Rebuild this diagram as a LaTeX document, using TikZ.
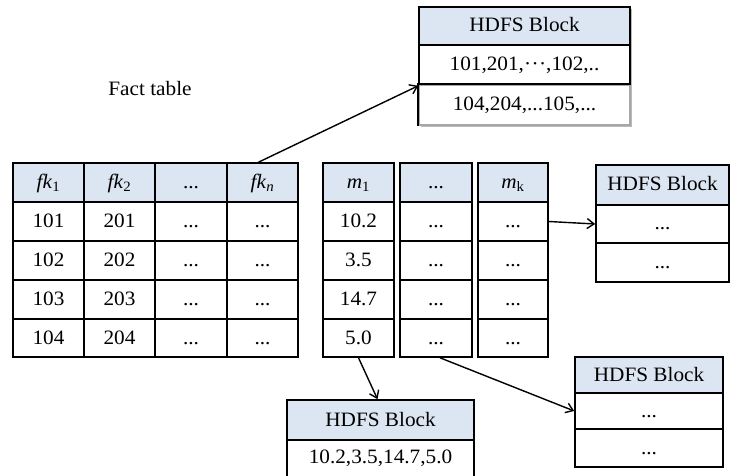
\documentclass[tikz,border=0pt]{standalone}
\usepackage{fontspec}
\setmainfont[FakeStretch=1.04]{Liberation Serif}
\usetikzlibrary{arrows.meta}
\definecolor{hdr}{HTML}{DCE6F2}
\tikzset{
  cell/.style={draw=black, line width=1.6bp, fill=white, inner sep=0pt, text=black,
    font=\fontsize{20.5}{24}\selectfont, text height=15bp, text depth=3bp},
  hcell/.style={cell, fill=hdr},
  conn/.style={draw=black, line width=1.4bp, -{Straight Barb[length=7bp,width=10bp]}},
  lbl/.style={font=\fontsize{20.5}{24}\selectfont, inner sep=0pt}
}
\newcommand\cbox[7]{\node[#6, minimum width={(#4-#2)*1bp}, minimum height={(#5-#3)*1bp}] (#1) at ({(#2+#4)/2},{(#3+#5)/2}) {#7};}
\begin{document}
\begin{tikzpicture}[x=1bp,y=-1bp]
\clip (0,0) rectangle (733,476);
\fill[white] (0,0) rectangle (733,476);
% Fact table label
\node[lbl] (ft) at (150,89) {Fact table};
% left table
\cbox{a0}{13}{163}{84}{202}{hcell}{\textit{fk}\textsubscript{1}}
\cbox{b0}{84}{163}{155}{202}{hcell}{\textit{fk}\textsubscript{2}}
\cbox{c0}{155}{163}{227}{202}{hcell}{...}
\cbox{n0}{227}{163}{298}{202}{hcell}{\textit{fk}\textsubscript{\textit{n}}}
\cbox{a1}{13}{202}{84}{241}{cell}{101}
\cbox{b1}{84}{202}{155}{241}{cell}{201}
\cbox{c1}{155}{202}{227}{241}{cell}{...}
\cbox{n1}{227}{202}{298}{241}{cell}{...}
\cbox{a2}{13}{241}{84}{280}{cell}{102}
\cbox{b2}{84}{241}{155}{280}{cell}{202}
\cbox{c2}{155}{241}{227}{280}{cell}{...}
\cbox{n2}{227}{241}{298}{280}{cell}{...}
\cbox{a3}{13}{280}{84}{319}{cell}{103}
\cbox{b3}{84}{280}{155}{319}{cell}{203}
\cbox{c3}{155}{280}{227}{319}{cell}{...}
\cbox{n3}{227}{280}{298}{319}{cell}{...}
\cbox{a4}{13}{319}{84}{357}{cell}{104}
\cbox{b4}{84}{319}{155}{357}{cell}{204}
\cbox{c4}{155}{319}{227}{357}{cell}{...}
\cbox{n4}{227}{319}{298}{357}{cell}{...}
% measure columns
\cbox{m0}{323}{163}{394}{202}{hcell}{\textit{m}\textsubscript{1}}
\cbox{m1}{323}{202}{394}{241}{cell}{10.2}
\cbox{m2}{323}{241}{394}{280}{cell}{3.5}
\cbox{m3}{323}{280}{394}{319}{cell}{14.7}
\cbox{m4}{323}{319}{394}{357}{cell}{5.0}
\cbox{d0}{400}{163}{472}{202}{hcell}{...}
\cbox{d1}{400}{202}{472}{241}{cell}{...}
\cbox{d2}{400}{241}{472}{280}{cell}{...}
\cbox{d3}{400}{280}{472}{319}{cell}{...}
\cbox{d4}{400}{319}{472}{357}{cell}{...}
\cbox{k0}{478}{163}{548}{202}{hcell}{\textit{m}\textsubscript{k}}
\cbox{k1}{478}{202}{548}{241}{cell}{...}
\cbox{k2}{478}{241}{548}{280}{cell}{...}
\cbox{k3}{478}{280}{548}{319}{cell}{...}
\cbox{k4}{478}{319}{548}{357}{cell}{...}
% top HDFS block with shadow
\fill[gray!55] (421,9) rectangle (632,127);
\cbox{t0}{419}{7}{630}{45}{hcell}{HDFS Block}
\cbox{t1}{419}{45}{630}{85}{cell}{101,201,·\kern0.5pt·\kern0.5pt·,102,..}
\cbox{t2}{419}{85}{630}{125}{cell,draw=gray!70}{104,204,...105,...}
\draw[black, line width=1.6bp] (t2.south west) -- (t2.north west) -- (t2.north east);
% right HDFS block
\cbox{r0}{596}{165}{729}{205}{hcell}{HDFS Block}
\cbox{r1}{596}{205}{729}{243}{cell}{...}
\cbox{r2}{596}{243}{729}{282}{cell}{...}
% bottom-right HDFS block
\cbox{s0}{575}{357}{723}{393}{hcell}{HDFS Block}
\cbox{s1}{575}{393}{723}{429}{cell}{...}
\cbox{s2}{575}{429}{723}{467}{cell}{...}
% bottom-middle HDFS block
\cbox{u0}{287}{400}{474}{440}{hcell}{HDFS Block}
\cbox{u1}{287}{440}{474}{482}{cell}{\raisebox{4bp}{10.2,3.5,14.7,5.0}}
% connectors
\draw[conn] ([xshift=-4bp]n0.north) -- (t1.south west);
\draw[conn] (k1.east) -- (r1.west);
\draw[conn] (m4.south) -- ([xshift=-3bp]u0.north);
\draw[conn] ([xshift=4bp]d4.south) -- (s1.west);
\end{tikzpicture}
\end{document}
